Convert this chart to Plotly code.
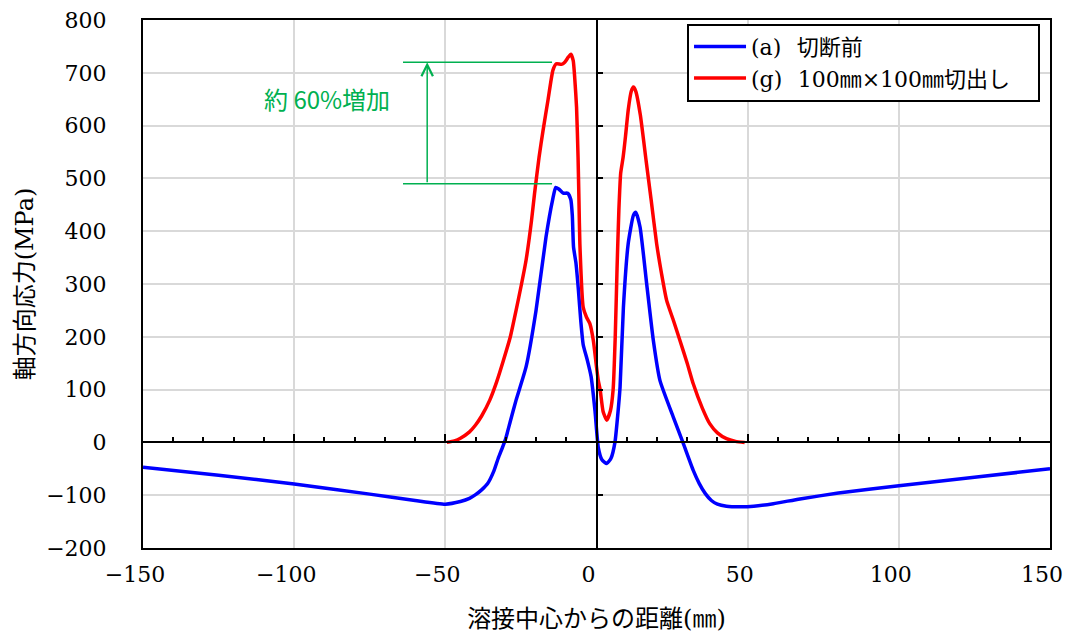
import plotly.graph_objects as go

# ---- data ----
x_a = [-150, -125, -100, -75, -60, -50, -45, -42, -40, -38, -36, -34, -32.5, -31, -30, -28.5,
       -26.6, -23.3, -20, -16.7, -14.5, -13.5, -12.5, -11, -9.5, -8.5, -8, -7.6, -6.8, -6, -5.2,
       -4.4, -3, -1.8, -0.5, 0.6, 1.8, 3.4, 4.8, 6.1, 7, 7.8, 8.9, 10.5, 12.2, 13, 14.4, 16.6,
       18.8, 21, 25.4, 28.7, 32, 34, 36, 38, 40, 43, 47.5, 52, 58.5, 67.3, 80, 100, 125, 150]
y_a = [-47, -62, -79, -98, -110, -117, -112, -106, -99, -90, -78, -55, -30, -8, 8, 40,
       80, 143, 250, 389, 460, 483, 480, 472, 472, 460, 430, 370, 340, 290, 230,
       185, 155, 125, 60, -10, -33, -40, -30, 0, 50, 105, 256, 377, 430, 436, 408, 300,
       193, 117, 48, -2, -53, -78, -97, -110, -117, -121, -122, -121, -116, -107, -96, -82, -66, -50]

x_g = [-49.5, -47, -45, -42, -40, -38, -35.3, -33, -30.8, -28.5, -26.6, -24.8, -23.3, -21.5, -20.5,
       -19, -17.7, -16, -14.4, -13.3, -11.6, -10.5, -9.3, -8.5, -7.7, -7.2, -6.6, -6.1, -5.8, -5.5,
       -4.4, -3.3, -2.2, -1.05, 0, 0.6, 1.2, 2.2, 3.4, 4.6, 5.5, 6.2, 6.8, 7.4, 8, 8.8, 9.6, 10.5,
       11.5, 12.2, 13, 14.5, 16.4, 18.1, 19.9, 21.5, 23.2, 25.5, 27.6, 30, 32, 35, 37.5, 40, 43, 46, 49]
y_g = [0, 3, 8, 20, 33, 50, 80, 115, 155, 200, 250, 300, 345, 420, 471,
       540, 590, 650, 705, 717, 716, 720, 730, 735, 723, 690, 635, 540, 458, 376,
       256, 237, 225, 193, 143, 117, 100, 58, 42, 60, 100, 200, 330, 440, 510, 540, 580, 630,
       665, 673, 665, 620, 534, 458, 376, 320, 269, 230, 193, 150, 111, 65, 35, 18, 7, 2, 0]

name_a = "(a)\u2002\u2009切断前\u2003"
name_g = "(g)\u2002\u2009100㎜×100㎜切出し\u2003"

x_ticks = [-150, -100, -50, 0, 50, 100, 150]
y_ticks = [-200, -100, 0, 100, 200, 300, 400, 500, 600, 700, 800]

# annotation (increase marker)
ann_low, ann_high = 490, 720
ann_line_x0, ann_line_x1 = -64, -14.7
ann_arrow_x = -56
ann_text = "約 60%増加"
ann_text_x, ann_text_y = -89.3, 652

GREEN = "#00B050"
SERIF = "'DejaVu Serif', 'Noto Sans CJK JP', serif"

fig = go.Figure()
fig.add_trace(go.Scatter(x=x_a, y=y_a, mode="lines", name=name_a, legendgroup="a",
                         line=dict(color="#0000FF", width=3.5, shape="spline", smoothing=0.5)))
fig.add_trace(go.Scatter(x=x_g, y=y_g, mode="lines", name=name_g, legendgroup="g",
                         line=dict(color="#FF0000", width=3.5, shape="spline", smoothing=0.5)))
# dummy trace for the centre (zero) axes
fig.add_trace(go.Scatter(x=[None], y=[None], xaxis="x2", yaxis="y2", showlegend=False,
                         hoverinfo="skip"))

# green marker lines
for yv in (ann_low, ann_high):
    fig.add_shape(type="line", x0=ann_line_x0, x1=ann_line_x1, y0=yv, y1=yv,
                  xref="x", yref="y", line=dict(color=GREEN, width=1.5))
fig.add_annotation(x=ann_arrow_x, y=ann_high, ax=ann_arrow_x, ay=ann_low, xref="x", yref="y",
                   axref="x", ayref="y", showarrow=True, arrowhead=5, arrowsize=1.5,
                   arrowwidth=1.5, arrowcolor=GREEN, text="")
fig.add_annotation(x=ann_text_x, y=ann_text_y, xref="x", yref="y", text=ann_text,
                   showarrow=False, font=dict(family="Noto Sans CJK JP", size=24, color=GREEN))

fig.update_layout(
    width=1071, height=637,
    margin=dict(l=143, r=21, t=20, b=89, autoexpand=False),
    paper_bgcolor="white", plot_bgcolor="white",
    font=dict(family=SERIF, color="black"),
    xaxis=dict(range=[-150, 150], tickvals=x_ticks, showgrid=True, gridcolor="#d9d9d9",
               gridwidth=1.5, showline=True, linecolor="black", linewidth=2, mirror=True,
               zeroline=False, ticks="", tickfont=dict(size=22, family=SERIF),
               ticklabelshift=-8, ticklabelstandoff=6, automargin=False,
               title=dict(text="溶接中心からの距離(㎜)", font=dict(size=24, family=SERIF),
                          standoff=24)),
    yaxis=dict(range=[-200, 800], tickvals=y_ticks, showgrid=True, gridcolor="#d9d9d9",
               gridwidth=1.5, showline=True, linecolor="black", linewidth=2, mirror=True,
               zeroline=False, ticks="", tickfont=dict(size=22, family=SERIF),
               ticklabelstandoff=30, automargin=False,
               title=dict(text="軸方向応力(MPa)", font=dict(size=24, family=SERIF),
                          standoff=6)),
    xaxis2=dict(overlaying="x", matches="x", anchor="free", position=0.2, side="bottom",
                showline=True, linecolor="black", linewidth=1.5, showgrid=False,
                zeroline=False, ticks="inside", ticklen=8, tickwidth=1.5, tickcolor="black",
                tickvals=x_ticks, showticklabels=False, automargin=False,
                minor=dict(dtick=10, tick0=0, ticks="inside", ticklen=5, tickwidth=1.5,
                           tickcolor="black", showgrid=False)),
    yaxis2=dict(overlaying="y", matches="y", anchor="free", position=0.5, side="left",
                showline=True, linecolor="black", linewidth=1.5, showgrid=False,
                zeroline=False, ticks="inside", ticklen=6, tickwidth=1.5, tickcolor="black",
                tickvals=y_ticks, showticklabels=False, automargin=False),
    legend=dict(x=0.989, y=0.993, xanchor="right", yanchor="top", bgcolor="white",
                bordercolor="black", borderwidth=2, font=dict(size=22, family=SERIF),
                tracegroupgap=0, itemwidth=52),
    showlegend=True,
)

fig.write_html("out.html", config={"displayModeBar": False},
               post_script="document.body.style.margin='0';document.body.style.padding='0';")
